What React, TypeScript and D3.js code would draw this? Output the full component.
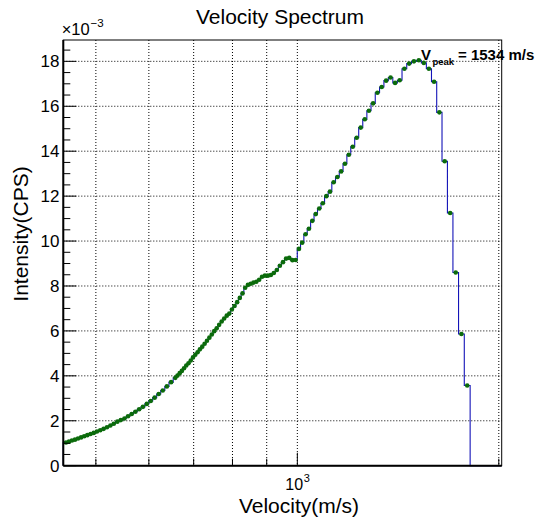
import React from 'react';
import * as d3 from 'd3';

// Bin centres (m/s) of the velocity histogram
const velocity = [
  451.2, 455.8, 460.5, 465.3, 470.2, 475.2, 480.3, 485.5, 490.9, 496.3,
  501.9, 507.6, 513.5, 519.5, 525.6, 531.8, 538.3, 544.8, 551.6, 558.5,
  565.6, 572.8, 580.3, 587.9, 595.8, 603.9, 612.1, 620.7, 629.4, 638.4,
  647.7, 657.2, 662.1, 667.1, 672.1, 677.2, 682.4, 687.6, 693.0, 698.4,
  703.9, 709.5, 715.2, 721.0, 726.9, 732.8, 738.9, 745.1, 751.3, 757.7,
  764.2, 770.8, 777.5, 784.4, 791.3, 798.4, 805.6, 813.0, 820.4, 828.1,
  835.8, 843.7, 851.8, 860.0, 868.4, 876.9, 885.6, 894.5, 903.6, 912.8,
  922.2, 931.9, 941.7, 951.8, 962.0, 972.5, 983.2, 994.2, 1005.4, 1016.8,
  1028.6, 1040.6, 1052.9, 1065.4, 1078.3, 1091.5, 1105.0, 1118.9, 1133.1, 1147.7,
  1162.6, 1178.0, 1193.7, 1209.9, 1226.6, 1243.7, 1261.3, 1279.3, 1297.9, 1317.1,
  1336.9, 1357.2, 1378.2, 1399.8, 1422.1, 1445.2, 1469.0, 1493.5, 1519.0, 1545.3,
  1572.5, 1600.7, 1630.0, 1660.3, 1691.8, 1724.5, 1758.5, 1793.9,
];

// Intensity per bin (×10^-3 CPS)
const intensity = [
  1.03, 1.07, 1.12, 1.16, 1.21, 1.26, 1.31, 1.36, 1.41, 1.46,
  1.52, 1.58, 1.64, 1.71, 1.79, 1.87, 1.96, 2.03, 2.10, 2.20,
  2.30, 2.40, 2.51, 2.62, 2.75, 2.88, 3.03, 3.19, 3.35, 3.53,
  3.72, 3.91, 4.01, 4.12, 4.22, 4.34, 4.46, 4.56, 4.68, 4.82,
  4.94, 5.05, 5.18, 5.30, 5.43, 5.56, 5.70, 5.84, 5.99, 6.12,
  6.27, 6.42, 6.55, 6.68, 6.77, 6.95, 7.11, 7.28, 7.47, 7.67,
  7.92, 8.05, 8.10, 8.15, 8.19, 8.28, 8.41, 8.46, 8.46, 8.49,
  8.58, 8.71, 8.90, 9.06, 9.22, 9.25, 9.15, 9.16, 9.65, 9.93,
  10.30, 10.55, 10.90, 11.20, 11.45, 11.68, 12.00, 12.20, 12.62, 12.85,
  13.10, 13.44, 13.84, 14.20, 14.60, 15.05, 15.42, 15.80, 16.13, 16.60,
  16.86, 17.14, 17.28, 17.04, 17.16, 17.67, 17.90, 18.00, 18.05, 17.93,
  17.67, 17.09, 15.73, 13.55, 11.25, 8.60, 5.86, 3.57,
];

const xDomain = [447, 2020];
const yDomain = [0, 18.95];
const xGridValues = [500, 600, 700, 800, 900, 1000, 2000];
const xLabelledTicks = [1000];
const yMajorTicks = [0, 2, 4, 6, 8, 10, 12, 14, 16, 18];
const yMinorStep = 0.5;
const titleText = 'Velocity Spectrum';
const xTitle = 'Velocity(m/s)';
const yTitle = 'Intensity(CPS)';
const peakVelocity = 1534;

const FONT = '"Liberation Sans", Arial, Helvetica, sans-serif';

export default function App() {
  const W = 537, H = 521;
  const L = 63.3, R = 501.7, T = 40, B = 465.7;
  const x = d3.scaleLog().domain(xDomain).range([L, R]);
  const y = d3.scaleLinear().domain(yDomain).range([B, T]);

  // bin edges: midpoints in 1/v between neighbouring centres
  const n = velocity.length;
  const edges: number[] = [];
  for (let i = 1; i < n; i++) {
    edges[i] = 2 / (1 / velocity[i - 1] + 1 / velocity[i]);
  }
  edges[0] = xDomain[0];
  const uLast = 2 / velocity[n - 1] - 1 / edges[n - 1];
  edges[n] = 1 / uLast;

  let d = `M${x(edges[0])},${y(0)}`;
  for (let i = 0; i < n; i++) {
    d += `V${y(intensity[i])}H${x(edges[i + 1])}`;
  }
  d += `V${y(0)}H${x(xDomain[1])}`;

  const yMinor: number[] = d3.range(yDomain[0], yDomain[1], yMinorStep).filter(
    (v) => !yMajorTicks.includes(v)
  );

  return (
    <svg
      width={W}
      height={H}
      style={{ position: 'absolute', left: 0, top: 0, background: '#fff' }}
      fontFamily={FONT}
    >
      <rect x={0} y={0} width={W} height={H} fill="#fff" />
      {/* grid */}
      <g stroke="#000" strokeWidth={1} strokeDasharray="1,2">
        {xGridValues.map((v) => (
          <line key={'gx' + v} x1={x(v)} x2={x(v)} y1={T} y2={B} />
        ))}
        {yMajorTicks.filter((v) => v > 0).map((v) => (
          <line key={'gy' + v} x1={L} x2={R} y1={y(v)} y2={y(v)} />
        ))}
      </g>
      {/* histogram outline */}
      <path d={d} fill="none" stroke="#1414b8" strokeWidth={1.1} />
      {/* markers */}
      <g fill="#0b6b0b">
        {velocity.map((v, i) => (
          <circle key={'m' + i} cx={x(v)} cy={y(intensity[i])} r={2.3} />
        ))}
      </g>
      {/* frame */}
      <rect x={L} y={T} width={R - L} height={B - T} fill="none" stroke="#000" strokeWidth={1} />
      <line x1={L} x2={L} y1={T} y2={B} stroke="#000" strokeWidth={2} />
      <line x1={L} x2={R} y1={B} y2={B} stroke="#000" strokeWidth={2} />
      {/* ticks */}
      <g stroke="#000" strokeWidth={1}>
        {yMajorTicks.map((v) => (
          <line key={'ty' + v} x1={L} x2={L + 13} y1={y(v)} y2={y(v)} />
        ))}
        {yMinor.map((v) => (
          <line key={'tmy' + v} x1={L} x2={L + 7} y1={y(v)} y2={y(v)} />
        ))}
        {xGridValues.map((v) => (
          <line
            key={'tx' + v}
            x1={x(v)}
            x2={x(v)}
            y1={B}
            y2={B - (xLabelledTicks.includes(v) ? 13 : 7)}
          />
        ))}
      </g>
      {/* y tick labels */}
      <g fontSize={17} textAnchor="end" fill="#000">
        {yMajorTicks.map((v) => (
          <text key={'ly' + v} x={59.5} y={y(v)} dy="0.36em">
            {v}
          </text>
        ))}
      </g>
      {/* x tick label 10^3 */}
      {xLabelledTicks.map((v) => (
        <g key={'lx' + v}>
          <text x={x(v) - 12} y={490} fontSize={16}>
            10
          </text>
          <text x={x(v) + 6.5} y={481.5} fontSize={11}>
            {Math.round(Math.log10(v))}
          </text>
        </g>
      ))}
      {/* exponent */}
      <text x={61.7} y={35} fontSize={16.5}>
        ×10
      </text>
      <text x={90.5} y={27} fontSize={11.5}>
        −3
      </text>
      {/* titles */}
      <text x={280} y={24} fontSize={21} textAnchor="middle">
        {titleText}
      </text>
      <text x={299} y={513} fontSize={21} textAnchor="middle">
        {xTitle}
      </text>
      <text
        transform={`translate(27.5,234) rotate(-90)`}
        fontSize={21}
        textAnchor="middle"
      >
        {yTitle}
      </text>
      {/* peak annotation */}
      <g fontWeight="bold" fill="#000">
        <text x={421} y={60} fontSize={15}>
          V
        </text>
        <text x={432.5} y={64.5} fontSize={9.5}>
          peak
        </text>
        <text x={458} y={60} fontSize={15}>
          = {peakVelocity} m/s
        </text>
      </g>
    </svg>
  );
}
